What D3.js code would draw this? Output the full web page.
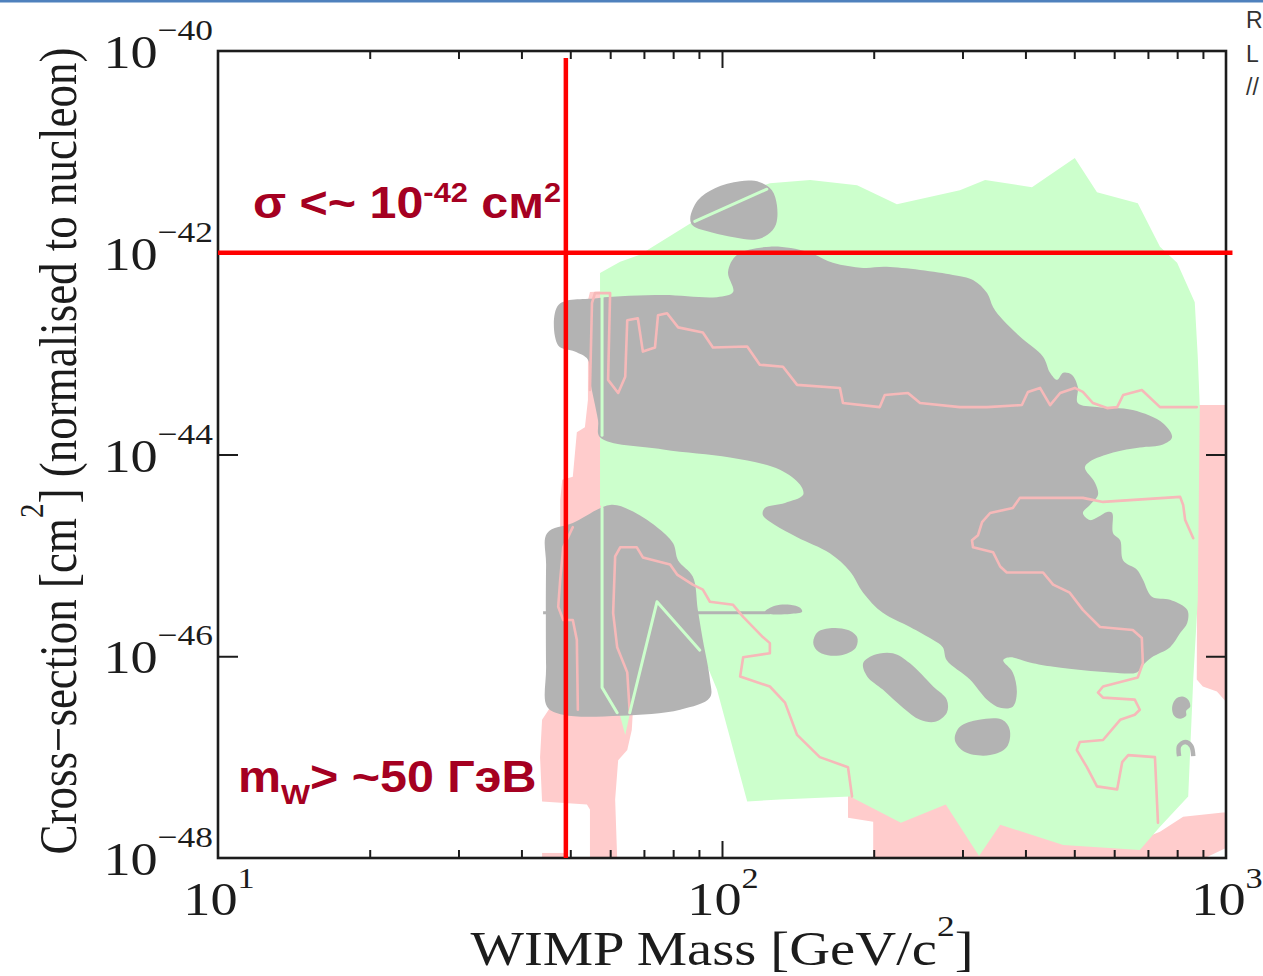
<!DOCTYPE html>
<html>
<head>
<meta charset="utf-8">
<script src="https://cdn.jsdelivr.net/npm/d3@7"></script>
<style>
  body { margin: 0; background: #fff; }
  svg { display: block; }
</style>
</head>
<body>
<svg id="chart" width="1263" height="976"></svg>
<script>
// ---- axis ticks -----------------------------------------------------------
const massTickExp = [1, 2, 3];                       // labels 10^1 .. 10^3 GeV/c^2
const sigmaTickExp = [-40, -42, -44, -46, -48];      // labels 10^-40 .. 10^-48 cm^2
const massMinor = [20, 30, 40, 50, 60, 70, 80, 90, 200, 300, 400, 500, 600, 700, 800, 900];
const massMajor = [100];
const sigmaMajor = [1e-42, 1e-44, 1e-46];

// ---- limits marked on the plot -------------------------------------------
const massLimit = 49;          // GeV
const sigmaLimit = 1e-42;      // cm^2
const massLimitTop = -40.07;   // log10 sigma where the mass line stops
const sigmaLimitEnd = 1030;    // GeV where the sigma line stops

// ---- regions, as [log10(mass / GeV), log10(sigma / cm^2)] -----------------
const greenRegion = [
  [1.758,-42.20],[1.798,-42.09],[1.837,-42.02],[1.937,-41.71],[2.026,-41.44],[2.095,-41.31],
  [2.175,-41.28],[2.268,-41.33],[2.347,-41.52],[2.472,-41.38],[2.522,-41.28],[2.615,-41.35],
  [2.700,-41.06],[2.744,-41.40],[2.825,-41.51],[2.869,-41.94],[2.903,-42.10],[2.938,-42.49],
  [2.944,-43.03],[2.948,-43.53],[2.944,-45.44],[2.935,-46.23],[2.925,-47.39],[2.869,-47.69],
  [2.829,-47.92],[2.677,-47.87],[2.552,-47.67],[2.510,-47.98],[2.444,-47.47],[2.355,-47.65],
  [2.254,-47.39],[2.115,-47.42],[2.050,-47.44],[1.990,-46.33],[1.966,-46.04],[1.758,-44.50]
];
const greenWedge = [[1.792,-46.48],[1.808,-46.78],[1.821,-46.48]];

const pinkLeftRegion = [
  [1.738,-42.39],[1.784,-42.38],[1.786,-42.47],[1.798,-42.47],[1.798,-46.43],[1.823,-46.56],
  [1.821,-46.73],[1.812,-46.93],[1.794,-47.03],[1.788,-47.42],[1.792,-48.00],[1.738,-48.00],
  [1.738,-47.52],[1.732,-47.47],[1.643,-47.44],[1.639,-47.00],[1.643,-46.63],[1.660,-46.50],
  [1.660,-44.95],[1.679,-44.88],[1.679,-44.45],[1.683,-44.25],[1.704,-44.22],[1.712,-43.78],
  [1.728,-43.73],[1.734,-43.46],[1.734,-42.47]
];
const pinkSliver = [[1.643,-47.95],[1.688,-47.95],[1.688,-48.00],[1.643,-48.00]];
const pinkBottomRegion = [
  [2.250,-47.38],[2.552,-47.42],[2.829,-47.82],[2.869,-47.74],[2.915,-47.59],[2.994,-47.55],
  [3.000,-47.55],[3.000,-47.90],[2.958,-48.00],[2.300,-48.00],[2.300,-47.64],[2.250,-47.60]
];
const pinkRightStrip = [
  [2.944,-43.51],[3.000,-43.51],[3.000,-46.45],[2.982,-46.35],[2.954,-46.30],[2.942,-46.23]
];

const grayMain = [
  [1.675,-42.52],[1.752,-42.45],[1.883,-42.42],[1.990,-42.44],[2.022,-42.39],[2.012,-42.19],
  [2.030,-42.02],[2.095,-41.94],[2.169,-41.99],[2.220,-42.10],[2.280,-42.15],[2.327,-42.14],
  [2.458,-42.22],[2.498,-42.27],[2.526,-42.40],[2.538,-42.54],[2.558,-42.67],[2.591,-42.83],
  [2.637,-43.03],[2.651,-43.19],[2.665,-43.26],[2.677,-43.19],[2.694,-43.21],[2.706,-43.33],
  [2.706,-43.49],[2.744,-43.53],[2.815,-43.56],[2.875,-43.69],[2.893,-43.83],[2.875,-43.90],
  [2.829,-43.93],[2.776,-43.98],[2.730,-44.07],[2.720,-44.13],[2.740,-44.28],[2.746,-44.40],
  [2.730,-44.50],[2.716,-44.58],[2.730,-44.65],[2.746,-44.62],[2.764,-44.57],[2.774,-44.58],
  [2.776,-44.78],[2.790,-44.85],[2.796,-45.05],[2.823,-45.14],[2.835,-45.24],[2.853,-45.41],
  [2.889,-45.44],[2.923,-45.54],[2.923,-45.67],[2.909,-45.77],[2.889,-45.91],[2.853,-46.01],
  [2.835,-46.09],[2.823,-46.16],[2.770,-46.16],[2.665,-46.11],[2.617,-46.07],[2.571,-46.01],
  [2.558,-46.04],[2.577,-46.16],[2.585,-46.36],[2.577,-46.50],[2.552,-46.51],[2.526,-46.43],
  [2.492,-46.23],[2.446,-46.04],[2.438,-45.91],[2.419,-45.84],[2.373,-45.71],[2.319,-45.57],
  [2.280,-45.37],[2.254,-45.16],[2.214,-44.98],[2.149,-44.82],[2.105,-44.70],[2.081,-44.60],
  [2.085,-44.53],[2.125,-44.48],[2.161,-44.40],[2.155,-44.30],[2.115,-44.15],[2.016,-44.03],
  [1.883,-43.95],[1.758,-43.83],[1.754,-43.66],[1.738,-43.26],[1.734,-43.06],[1.708,-42.98],
  [1.675,-42.92]
];
const grayTop = [
  [1.937,-41.66],[1.952,-41.48],[1.986,-41.36],[2.036,-41.29],[2.075,-41.30],[2.099,-41.38],
  [2.109,-41.53],[2.107,-41.72],[2.091,-41.82],[2.065,-41.87],[2.026,-41.85],[1.980,-41.80],
  [1.942,-41.73]
];
const grayLowLeft = [
  [1.653,-44.78],[1.704,-44.68],[1.778,-44.50],[1.817,-44.55],[1.871,-44.72],[1.903,-44.88],
  [1.913,-45.05],[1.942,-45.21],[1.952,-45.54],[1.962,-45.84],[1.976,-46.23],[1.976,-46.41],
  [1.917,-46.53],[1.798,-46.59],[1.685,-46.58],[1.653,-46.50],[1.651,-46.10],[1.651,-45.10]
];
const grayBlobA = [
  [2.181,-45.86],[2.190,-45.76],[2.218,-45.72],[2.250,-45.74],[2.268,-45.81],[2.266,-45.91],
  [2.244,-45.98],[2.210,-45.99],[2.188,-45.94]
];
const grayBlobB = [
  [2.280,-46.07],[2.300,-45.99],[2.339,-45.97],[2.373,-46.07],[2.419,-46.30],[2.446,-46.43],
  [2.446,-46.56],[2.423,-46.65],[2.393,-46.63],[2.359,-46.51],[2.319,-46.33],[2.288,-46.20]
];
const grayBlobC = [
  [2.472,-46.70],[2.510,-46.63],[2.556,-46.63],[2.571,-46.73],[2.565,-46.90],[2.532,-46.98],
  [2.482,-46.95],[2.462,-46.83]
];
const grayBlobD = [
  [2.893,-46.51],[2.899,-46.43],[2.913,-46.40],[2.925,-46.43],[2.929,-46.50],[2.921,-46.54],
  [2.921,-46.59],[2.909,-46.62],[2.897,-46.59]
];
const grayStreakTip = [
  [2.085,-45.56],[2.105,-45.50],[2.135,-45.49],[2.155,-45.52],[2.159,-45.56],[2.135,-45.58],
  [2.095,-45.58]
];
const grayStreak = [[1.645,-45.57],[2.095,-45.57]];
const grayArch = [[2.907,-46.99],[2.907,-46.89],[2.919,-46.85],[2.931,-46.89],[2.935,-46.99]];

// contour lines
const pinkContourUpper = [
  [1.738,-43.36],[1.742,-42.50],[1.748,-42.40],[1.778,-42.40],[1.774,-43.26],[1.794,-43.39],
  [1.808,-43.23],[1.812,-42.67],[1.833,-42.65],[1.843,-42.98],[1.867,-42.94],[1.873,-42.62],
  [1.891,-42.60],[1.913,-42.74],[1.962,-42.79],[1.982,-42.94],[2.050,-42.93],[2.075,-43.11],
  [2.121,-43.13],[2.149,-43.31],[2.234,-43.34],[2.240,-43.49],[2.313,-43.53],[2.323,-43.41],
  [2.369,-43.39],[2.393,-43.49],[2.472,-43.53],[2.526,-43.53],[2.595,-43.51],[2.607,-43.38],
  [2.631,-43.34],[2.651,-43.51],[2.671,-43.39],[2.700,-43.34],[2.716,-43.38],[2.736,-43.49],
  [2.764,-43.54],[2.784,-43.53],[2.796,-43.41],[2.833,-43.36],[2.869,-43.53],[2.942,-43.53]
];
const pinkContourRight = [
  [2.935,-44.83],[2.919,-44.65],[2.915,-44.50],[2.909,-44.42],[2.756,-44.47],[2.716,-44.43],
  [2.591,-44.43],[2.577,-44.53],[2.532,-44.58],[2.516,-44.67],[2.508,-44.80],[2.496,-44.85],
  [2.498,-44.92],[2.538,-44.97],[2.552,-45.11],[2.565,-45.17],[2.637,-45.17],[2.657,-45.29],
  [2.690,-45.37],[2.716,-45.54],[2.750,-45.71],[2.815,-45.74],[2.833,-45.82],[2.835,-46.07],
  [2.825,-46.21],[2.756,-46.30],[2.746,-46.36],[2.756,-46.41],[2.819,-46.43],[2.829,-46.53],
  [2.819,-46.58],[2.790,-46.63],[2.756,-46.83],[2.710,-46.85],[2.704,-46.93],[2.724,-47.10],
  [2.744,-47.29],[2.784,-47.32],[2.794,-47.05],[2.806,-46.98],[2.859,-47.00],[2.865,-47.65]
];
const pinkContourLeft = [
  [1.704,-44.72],[1.685,-44.92],[1.679,-45.24],[1.675,-45.51],[1.685,-45.64],[1.704,-45.64],
  [1.712,-45.84],[1.714,-46.53]
];
const pinkContourLow = [
  [1.817,-46.56],[1.812,-46.16],[1.792,-45.91],[1.784,-45.57],[1.788,-45.01],[1.798,-44.92],
  [1.831,-44.92],[1.843,-45.02],[1.897,-45.09],[1.911,-45.19],[1.942,-45.29],[1.962,-45.34],
  [1.976,-45.46],[2.022,-45.49],[2.042,-45.61],[2.081,-45.81],[2.095,-45.87],[2.095,-45.97],
  [2.042,-46.01],[2.036,-46.20],[2.095,-46.30],[2.125,-46.46],[2.149,-46.78],[2.194,-47.00],
  [2.250,-47.10],[2.258,-47.39]
];
const greenContourA = [[1.762,-42.44],[1.762,-43.81]];
const greenContourB = [[1.762,-44.53],[1.762,-46.31],[1.792,-46.56]];
const greenContourC = [[1.817,-46.56],[1.871,-45.46],[1.956,-45.94]];
const greenContourD = [[1.946,-41.69],[2.089,-41.37]];

// ---- drawing ---------------------------------------------------------------
const W = 1263, H = 976;
const plot = { left: 218, right: 1226, top: 51, bottom: 858 };
const svg = d3.select("#chart");

const x = d3.scaleLog().domain([10, 1000]).range([plot.left, plot.right]);
const y = d3.scaleLog().domain([1e-48, 1e-40]).range([plot.bottom, plot.top]);

const px = p => x(Math.pow(10, p[0]));
const py = p => y(Math.pow(10, p[1]));
const straight = d3.line().x(px).y(py);
const straightClosed = d3.line().x(px).y(py).curve(d3.curveLinearClosed);
const smoothClosed = d3.line().x(px).y(py).curve(d3.curveCatmullRomClosed.alpha(0.5));
const smoothOpen = d3.line().x(px).y(py).curve(d3.curveCatmullRom.alpha(0.5));

const COLORS = {
  pink: "#ffcccc", green: "#ccffcc", gray: "#b3b3b3",
  pinkLine: "#f6b9b9", greenLine: "#ccffcc", red: "#ff0000",
  note: "#a50021", ink: "#1c1c1c"
};

svg.append("rect").attr("width", W).attr("height", H).attr("fill", "#fff");
// slide header rule
svg.append("rect").attr("x", 0).attr("y", 0).attr("width", W).attr("height", 2.5).attr("fill", "#4f81bd");

const regions = svg.append("g");
[pinkLeftRegion, pinkSliver, pinkBottomRegion, pinkRightStrip].forEach(r =>
  regions.append("path").attr("d", straightClosed(r)).attr("fill", COLORS.pink));
[greenRegion, greenWedge].forEach(r =>
  regions.append("path").attr("d", straightClosed(r)).attr("fill", COLORS.green));
[grayMain, grayTop, grayLowLeft, grayBlobA, grayBlobB, grayBlobC, grayBlobD, grayStreakTip].forEach(r =>
  regions.append("path").attr("d", smoothClosed(r)).attr("fill", COLORS.gray));
regions.append("path").attr("d", straight(grayStreak))
  .attr("fill", "none").attr("stroke", COLORS.gray).attr("stroke-width", 3);
regions.append("path").attr("d", smoothOpen(grayArch))
  .attr("fill", "none").attr("stroke", COLORS.gray).attr("stroke-width", 4.5);

const lines = svg.append("g").attr("fill", "none")
  .attr("stroke-linejoin", "round").attr("stroke-linecap", "round");
[pinkContourUpper, pinkContourRight, pinkContourLeft, pinkContourLow].forEach(c =>
  lines.append("path").attr("d", straight(c)).attr("stroke", COLORS.pinkLine).attr("stroke-width", 2.6));
[greenContourA, greenContourB, greenContourC, greenContourD].forEach(c =>
  lines.append("path").attr("d", straight(c)).attr("stroke", COLORS.greenLine).attr("stroke-width", 3));

// ---- frame and ticks -------------------------------------------------------
const axes = svg.append("g");
function tickAxis(axis, transform) {
  const g = axes.append("g").attr("transform", transform).call(axis);
  g.select(".domain").remove();
  g.selectAll("line").attr("stroke", COLORS.ink).attr("stroke-width", 2);
  g.selectAll("text").remove();
}
tickAxis(d3.axisBottom(x).tickValues(massMinor).tickSize(-8), `translate(0,${plot.bottom})`);
tickAxis(d3.axisBottom(x).tickValues(massMajor).tickSize(-17), `translate(0,${plot.bottom})`);
tickAxis(d3.axisTop(x).tickValues(massMinor).tickSize(-8), `translate(0,${plot.top})`);
tickAxis(d3.axisTop(x).tickValues(massMajor).tickSize(-17), `translate(0,${plot.top})`);
tickAxis(d3.axisLeft(y).tickValues(sigmaMajor).tickSize(-20), `translate(${plot.left},0)`);
tickAxis(d3.axisRight(y).tickValues(sigmaMajor).tickSize(-20), `translate(${plot.right},0)`);

axes.append("rect")
  .attr("x", plot.left).attr("y", plot.top)
  .attr("width", plot.right - plot.left).attr("height", plot.bottom - plot.top)
  .attr("fill", "none").attr("stroke", COLORS.ink).attr("stroke-width", 2.6);

// ---- limit lines -----------------------------------------------------------
svg.append("line")
  .attr("x1", x(massLimit)).attr("x2", x(massLimit))
  .attr("y1", y(1e-48)).attr("y2", y(Math.pow(10, massLimitTop)))
  .attr("stroke", COLORS.red).attr("stroke-width", 4.5);
svg.append("line")
  .attr("x1", x(10)).attr("x2", x(sigmaLimitEnd))
  .attr("y1", y(sigmaLimit)).attr("y2", y(sigmaLimit))
  .attr("stroke", COLORS.red).attr("stroke-width", 4.5);

// ---- tick labels (serif, slightly widened) --------------------------------
const SERIF = "'Liberation Serif', 'Times New Roman', serif";
const SANS = "'Liberation Sans', Arial, sans-serif";
const stretch = 1.18;

svg.selectAll("text.ylab").data(sigmaTickExp).join("text")
  .attr("class", "ylab")
  .attr("transform", d => `translate(213,${y(Math.pow(10, d)) + 17}) scale(${stretch},1)`)
  .attr("text-anchor", "end").attr("font-family", SERIF).attr("fill", COLORS.ink)
  .each(function (d) {
    const t = d3.select(this);
    t.append("tspan").attr("font-size", 46).text("10");
    t.append("tspan").attr("font-size", 30).attr("dy", -28).text("\u2212" + Math.abs(d));
  });

svg.selectAll("text.xlab").data(massTickExp).join("text")
  .attr("class", "xlab")
  .attr("transform", d => `translate(${x(Math.pow(10, d)) + 1},915) scale(${stretch},1)`)
  .attr("text-anchor", "middle").attr("font-family", SERIF).attr("fill", COLORS.ink)
  .each(function (d) {
    const t = d3.select(this);
    t.append("tspan").attr("font-size", 46).text("10");
    t.append("tspan").attr("font-size", 29).attr("dy", -27).text(d);
  });

// axis titles
const xt = svg.append("text")
  .attr("transform", `translate(722,965) scale(${stretch},1)`)
  .attr("text-anchor", "middle").attr("font-family", SERIF).attr("font-size", 48).attr("fill", COLORS.ink);
xt.append("tspan").text("WIMP Mass [GeV/c");
xt.append("tspan").attr("font-size", 30).attr("dy", -29).text("2");
xt.append("tspan").attr("dy", 29).text("]");

const yt = svg.append("text")
  .attr("transform", `translate(76,451) scale(${stretch},1) rotate(-90)`)
  .attr("text-anchor", "middle").attr("font-family", SERIF).attr("font-size", 45).attr("fill", COLORS.ink);
yt.append("tspan").text("Cross\u2212section [cm");
yt.append("tspan").attr("font-size", 29).attr("dy", -28).text("2");
yt.append("tspan").attr("dy", 28).text("] (normalised to nucleon)");

// ---- annotations (slightly widened, like the slide they sit on) -----------
const wide = 1.1;
const n1 = svg.append("text").attr("transform", `translate(253,218) scale(${wide},1)`)
  .attr("font-family", SANS).attr("font-weight", "bold").attr("font-size", 44).attr("fill", COLORS.note);
n1.append("tspan").text("\u03c3 <~ 10");
n1.append("tspan").attr("font-size", 28).attr("dy", -16).text("-42");
n1.append("tspan").attr("dy", 16).text(" см");
n1.append("tspan").attr("font-size", 28).attr("dy", -16).text("2");

const n2 = svg.append("text").attr("transform", `translate(238,792) scale(${wide},1)`)
  .attr("font-family", SANS).attr("font-weight", "bold").attr("font-size", 44).attr("fill", COLORS.note);
n2.append("tspan").text("m");
n2.append("tspan").attr("font-size", 28).attr("dy", 12).text("W");
n2.append("tspan").attr("dy", -12).text("> ~50 ГэВ");

// slide text at the right margin
const side = svg.append("g").attr("font-family", SANS).attr("font-size", 23).attr("fill", "#333");
[["R", 28], ["L", 62], ["//", 95]].forEach(([s, yy]) =>
  side.append("text").attr("x", 1246).attr("y", yy).text(s));
</script>
</body>
</html>
